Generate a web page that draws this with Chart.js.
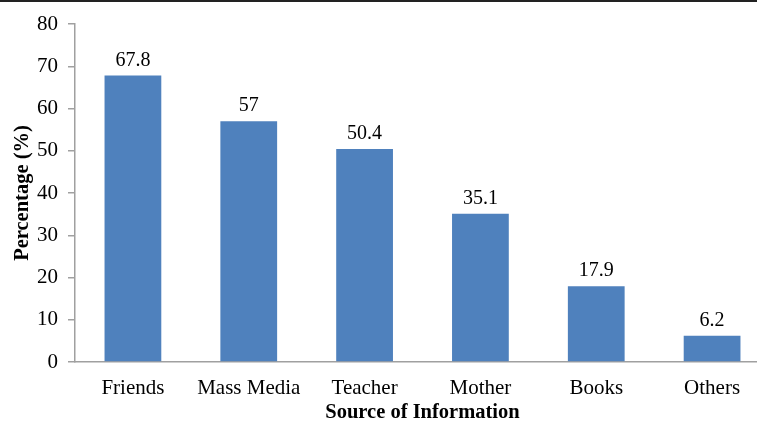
<!DOCTYPE html>
<html>
<head>
<meta charset="utf-8">
<script src="https://cdn.jsdelivr.net/npm/chart.js@4/dist/chart.umd.min.js"></script>
<style>
  html, body { margin: 0; padding: 0; background: #fff; overflow: hidden; }
  #wrap { position: relative; width: 770px; height: 423px; }
  #topline { position: absolute; left: 0; top: 0; width: 770px; height: 2px; background: #222; }
</style>
</head>
<body>
<div id="wrap"><canvas id="chart" width="770" height="423"></canvas><div id="topline"></div></div>
<script>
const categories = ["Friends", "Mass Media", "Teacher", "Mother", "Books", "Others"];
const percentages = [67.8, 57, 50.4, 35.1, 17.9, 6.2];
const yTicks = [0, 10, 20, 30, 40, 50, 60, 70, 80];

const serif = "'Liberation Serif', 'Times New Roman', serif";

// value labels above each bar
const barLabels = {
  id: "barLabels",
  afterDatasetsDraw(chart) {
    const ctx = chart.ctx;
    const meta = chart.getDatasetMeta(0);
    ctx.save();
    ctx.font = "20px " + serif;
    ctx.fillStyle = "#000";
    ctx.textAlign = "center";
    ctx.textBaseline = "alphabetic";
    meta.data.forEach((bar, i) => {
      ctx.fillText(String(percentages[i]), bar.x, bar.y - 10);
    });
    ctx.restore();
  },
};

new Chart(document.getElementById("chart").getContext("2d"), {
  type: "bar",
  data: {
    labels: categories,
    datasets: [
      {
        data: percentages,
        backgroundColor: "#4f81bd",
        borderWidth: 0,
        barPercentage: 0.49,
        categoryPercentage: 1,
      },
    ],
  },
  options: {
    responsive: false,
    animation: false,
    layout: { padding: { top: 24, left: 6, right: 0, bottom: 0 } },
    plugins: { legend: { display: false }, tooltip: { enabled: false } },
    scales: {
      x: {
        afterFit: (axis) => { axis.height = 61; },
        grid: { display: false, drawTicks: false },
        border: { color: "#a0a0a0", width: 1.5 },
        ticks: { color: "#000", font: { family: serif, size: 21 }, padding: 14 },
        title: {
          display: true,
          text: "Source of Information",
          color: "#000",
          font: { family: serif, size: 20.5, weight: "bold" },
          padding: { top: 0, bottom: -2 },
        },
      },
      y: {
        min: 0,
        max: 80,
        afterFit: (axis) => { axis.width = 69; },
        afterBuildTicks: (axis) => { axis.ticks = yTicks.map((v) => ({ value: v })); },
        grid: { drawOnChartArea: false, drawTicks: true, tickLength: 7, color: "#a0a0a0", lineWidth: 1.5 },
        border: { color: "#a0a0a0", width: 1.5 },
        ticks: { color: "#000", font: { family: serif, size: 21 }, padding: 10 },
        title: {
          display: true,
          text: "Percentage (%)",
          color: "#000",
          font: { family: serif, size: 20.5, weight: "bold" },
          padding: { top: 4, bottom: 4 },
        },
      },
    },
  },
  plugins: [barLabels],
});
</script>
</body>
</html>
